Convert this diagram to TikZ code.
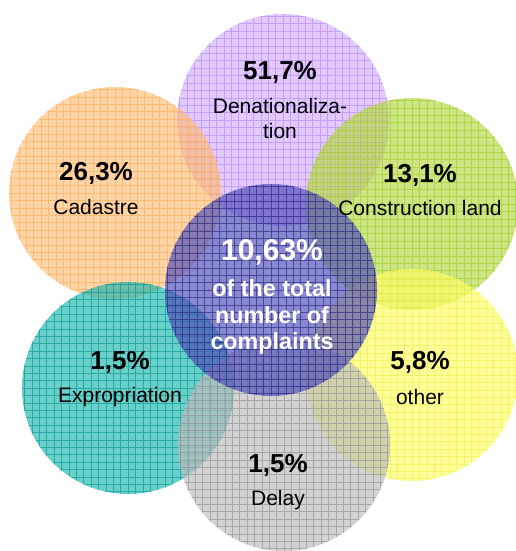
\documentclass[tikz,border=0pt]{standalone}
\usepackage{fontspec}
\setmainfont{Liberation Sans}
\definecolor{cPurple}{RGB}{212,176,255}
\definecolor{gPurple}{RGB}{180,130,250}
\definecolor{cOrange}{RGB}{255,191,126}
\definecolor{gOrange}{RGB}{255,170,80}
\definecolor{cGreen}{RGB}{183,216,76}
\definecolor{gGreen}{RGB}{155,205,25}
\definecolor{cYellow}{RGB}{255,255,105}
\definecolor{gYellow}{RGB}{235,235,70}
\definecolor{cTeal}{RGB}{34,184,176}
\definecolor{gTeal}{RGB}{0,145,145}
\definecolor{cGray}{RGB}{190,190,190}
\definecolor{gGray}{RGB}{140,140,140}
\definecolor{cBlue}{RGB}{80,80,185}
\definecolor{gBlue}{RGB}{30,30,120}
\tikzset{
  bubble/.style 2 args={circle, minimum size=212pt, inner sep=0pt, draw=none,
    fill=#1, fill opacity=0.68,
    path picture={\draw[#2, line width=0.6pt, draw opacity=0.6]
      ([xshift=-1pt,yshift=-1pt]path picture bounding box.south west) grid[step=7.4pt]
      ([xshift=1pt,yshift=1pt]path picture bounding box.north east);}},
  pct/.style={font=\bfseries\fontsize{26}{28}\selectfont, text=black},
  lbl/.style={font=\fontsize{21}{25}\selectfont, text=black, align=center, inner sep=0pt},
  pctw/.style={font=\bfseries\fontsize{30}{32}\selectfont, text=white},
  lblw/.style={font=\bfseries\fontsize{23.3}{26.5}\selectfont, text=white, align=center, inner sep=0pt},
}
\begin{document}
\begin{tikzpicture}[x=1pt,y=-1pt]
\useasboundingbox (0,0) rectangle (515,551);
\node[bubble={cPurple}{gPurple}] (purple) at (283,120) {};
\node[bubble={cOrange}{gOrange}] (orange) at (115,193) {};
\node[bubble={cGreen}{gGreen}] (green) at (412,204) {};
\node[bubble={cYellow}{gYellow}] (yellow) at (412,375) {};
\node[bubble={cTeal}{gTeal}] (teal) at (128,388) {};
\node[bubble={cGray}{gGray}] (gray) at (284,445) {};
\node[bubble={cBlue}{gBlue}] (blue) at (271,290) {};

\node[pct] (p1) at (280,72) {51,7\%};
\node[lbl] (l1) at (280,118) {Denationaliza-\\tion};
\node[pct] (p2) at (96,173) {26,3\%};
\node[lbl] (l2) at (96,207) {Cadastre};
\node[pct] (p3) at (420,175) {13,1\%};
\node[lbl] (l3) at (420,208) {Construction land};
\node[pctw] (p4) at (272,252) {10,63\%};
\node[lblw] (l4) at (272,317) {of the total\\number of\\complaints};
\node[pct] (p5) at (120,362) {1,5\%};
\node[lbl] (l5) at (120,397) {Expropriation};
\node[pct] (p6) at (420,362) {5,8\%};
\node[lbl] (l6) at (420,397) {other};
\node[pct] (p7) at (278,465) {1,5\%};
\node[lbl] (l7) at (278,500) {Delay};
\end{tikzpicture}
\end{document}
